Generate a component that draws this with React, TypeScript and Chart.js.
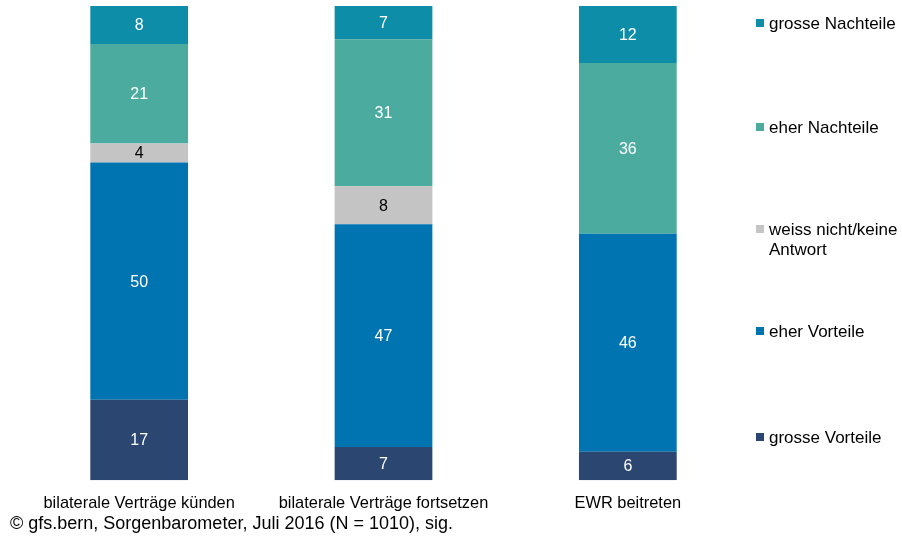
import React, { useEffect, useRef } from "react";
import { Chart, registerables } from "chart.js";

Chart.register(...registerables);

const categories = ["bilaterale Verträge künden", "bilaterale Verträge fortsetzen", "EWR beitreten"];
const seriesNames = ["grosse Vorteile", "eher Vorteile", "weiss nicht/keine Antwort", "eher Nachteile", "grosse Nachteile"];
const grosseVorteile = [17, 7, 6];
const eherVorteile = [50, 47, 46];
const weissNicht = [4, 8, 0];
const eherNachteile = [21, 31, 36];
const grosseNachteile = [8, 7, 12];
const colors = ["#2b4670", "#0073b1", "#c4c4c4", "#4bab9f", "#0e8da8"];
const labelColors = ["#ffffff", "#ffffff", "#000000", "#ffffff", "#ffffff"];
const legendOrder = [4, 3, 2, 1, 0];
const legendLines: string[][] = [
  ["grosse Nachteile"],
  ["eher Nachteile"],
  ["weiss nicht/keine", "Antwort"],
  ["eher Vorteile"],
  ["grosse Vorteile"],
];
const legendY = [23, 127, 229, 331, 437];
const footer = "© gfs.bern, Sorgenbarometer, Juli 2016 (N = 1010), sig.";

const FONT = "'Liberation Sans', Arial, sans-serif";

export default function App() {
  const ref = useRef<HTMLCanvasElement | null>(null);
  useEffect(() => {
    document.body.style.margin = "0";
    const values = [grosseVorteile, eherVorteile, weissNicht, eherNachteile, grosseNachteile];
    const labelPlugin = {
      id: "labels",
      afterDatasetsDraw(chart: any) {
        const ctx = chart.ctx;
        ctx.save();
        ctx.font = `16px ${FONT}`;
        ctx.textAlign = "center";
        ctx.textBaseline = "middle";
        chart.data.datasets.forEach((ds: any, i: number) => {
          const meta = chart.getDatasetMeta(i);
          meta.data.forEach((el: any, j: number) => {
            const v = ds.data[j];
            if (!v) return;
            ctx.fillStyle = labelColors[i];
            ctx.fillText(String(v), el.x, (el.y + el.base) / 2 + 1);
          });
        });
        // legend
        ctx.textAlign = "left";
        ctx.font = `17px ${FONT}`;
        legendOrder.forEach((si, k) => {
          const y = legendY[k];
          ctx.fillStyle = colors[si];
          ctx.fillRect(756, y - 4, 8, 8);
          ctx.fillStyle = "#000";
          legendLines[k].forEach((line, li) => {
            ctx.fillText(line, 769, y + li * 20 + 1);
          });
        });
        // footer
        ctx.font = `18px ${FONT}`;
        ctx.fillText(footer, 10, 524);
        ctx.restore();
      },
    };
    const chart = new Chart(ref.current!, {
      type: "bar",
      data: {
        labels: categories,
        datasets: values.map((d, i) => ({
          label: seriesNames[i],
          data: d,
          backgroundColor: colors[i],
          borderWidth: 0,
          barPercentage: 0.4,
          categoryPercentage: 1,
        })),
      },
      options: {
        animation: false,
        responsive: false,
        layout: { padding: { left: 17, right: 152, top: 6, bottom: 20 } },
        plugins: { legend: { display: false }, tooltip: { enabled: false } },
        scales: {
          x: {
            stacked: true,
            grid: { display: false },
            border: { display: false },
            ticks: { color: "#000", font: { size: 16.4, family: FONT }, padding: 5, maxRotation: 0, autoSkip: false },
          },
          y: { stacked: true, display: false, min: 0, max: 100 },
        },
      },
      plugins: [labelPlugin],
    });
    return () => chart.destroy();
  }, []);
  return (
    <div style={{ position: "absolute", left: 0, top: 0, width: 902, height: 538, background: "#fff" }}>
      <canvas ref={ref} width={902} height={538} />
    </div>
  );
}
